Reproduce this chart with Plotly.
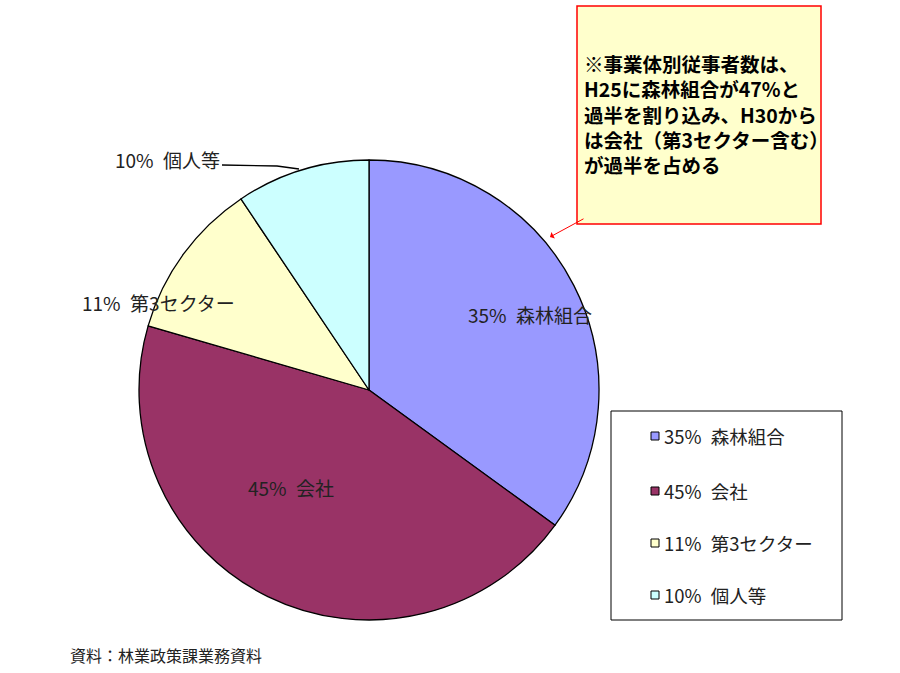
"""Share of forestry workers by type of business entity (pie chart)."""
import plotly.graph_objects as go

W, H = 900, 673

categories = ["森林組合", "会社", "第3セクター", "個人等"]
shares = [35.0, 44.5, 11.1, 9.4]
pct_labels = ["35%", "45%", "11%", "10%"]
colors = ["#9999FF", "#993366", "#FFFFCC", "#CCFFFF"]

note_lines = [
    "※事業体別従事者数は、",
    "H25に森林組合が47%と",
    "過半を割り込み、H30から",
    "は会社（第3セクター含む）",
    "が過半を占める",
]
source_text = "資料：林業政策課業務資料"

FONT = "Noto Sans CJK JP"


def px_x(x):
    return x / W


def px_y(y):
    return 1 - y / H


# pie centred at (369, 390) px with radius ~230 px
cx, cy, r = 369, 390, 230

fig = go.Figure(
    go.Pie(
        labels=categories,
        values=shares,
        sort=False,
        direction="clockwise",
        rotation=0,
        textinfo="none",
        hoverinfo="label+percent",
        marker=dict(colors=colors, line=dict(color="#000000", width=1.3)),
        domain=dict(x=[px_x(cx - r), px_x(cx + r)], y=[px_y(cy + r), px_y(cy - r)]),
        showlegend=False,
    )
)

annotations = []
shapes = []

# slice labels
label_pos = [
    (530, 314, "center"),
    (291, 487, "center"),
    (80, 303, "left"),
    (113, 159, "left"),
]
for (x, y, anchor), pct, name in zip(label_pos, pct_labels, categories):
    annotations.append(dict(
        x=px_x(x), y=px_y(y), xref="paper", yref="paper",
        text=f"{pct}\u2002{name}", showarrow=False, xanchor=anchor, yanchor="middle",
        font=dict(family=FONT, size=19, color="#222222"),
    ))

# leader line for 個人等
shapes.append(dict(
    type="path", xref="paper", yref="paper",
    path=f"M {px_x(222)} {px_y(165)} L {px_x(277)} {px_y(166)} L {px_x(299)} {px_y(169)}",
    line=dict(color="#000000", width=1.3),
))

# manual legend
shapes.append(dict(
    type="rect", xref="paper", yref="paper",
    x0=px_x(611), x1=px_x(842), y0=px_y(620), y1=px_y(411),
    line=dict(color="#000000", width=1), fillcolor="#FFFFFF",
))
legend_y = [436, 491, 543, 595]
for y, pct, name, col in zip(legend_y, pct_labels, categories, colors):
    shapes.append(dict(
        type="rect", xref="paper", yref="paper",
        x0=px_x(651), x1=px_x(659), y0=px_y(y + 4), y1=px_y(y - 4),
        line=dict(color="#000000", width=1), fillcolor=col,
    ))
    annotations.append(dict(
        x=px_x(662), y=px_y(y), xref="paper", yref="paper",
        text=f"{pct}\u2002{name}", showarrow=False, xanchor="left", yanchor="middle",
        font=dict(family=FONT, size=18.5, color="#222222"),
    ))

# callout note box
shapes.append(dict(
    type="rect", xref="paper", yref="paper",
    x0=px_x(577), x1=px_x(821), y0=px_y(224), y1=px_y(6),
    line=dict(color="#FF0000", width=1.5), fillcolor="#FFFFCC",
))
annotations.append(dict(
    x=px_x(582), y=px_y(114), xref="paper", yref="paper",
    text="<br>".join(f"<b>{ln}</b>" for ln in note_lines),
    showarrow=False, xanchor="left", yanchor="middle", align="left",
    font=dict(family=FONT, size=19.5, color="#000000"),
))
annotations.append(dict(
    x=px_x(550), y=px_y(237), xref="paper", yref="paper",
    ax=35, ay=-19, axref="pixel", ayref="pixel",
    text="", showarrow=True, arrowhead=1, arrowsize=1.2, arrowwidth=1,
    arrowcolor="#FF0000",
))

# source
annotations.append(dict(
    x=px_x(68), y=px_y(655), xref="paper", yref="paper",
    text=source_text, showarrow=False, xanchor="left", yanchor="middle",
    font=dict(family=FONT, size=16, color="#222222"),
))

fig.update_layout(
    width=W, height=H,
    margin=dict(l=0, r=0, t=0, b=0),
    paper_bgcolor="#FFFFFF",
    plot_bgcolor="#FFFFFF",
    shapes=shapes,
    annotations=annotations,
)

# drop the default page margin so the figure fills the window exactly
fig.write_html(
    "out.html",
    config={"displayModeBar": False},
    post_script="document.body.style.margin='0';",
)
